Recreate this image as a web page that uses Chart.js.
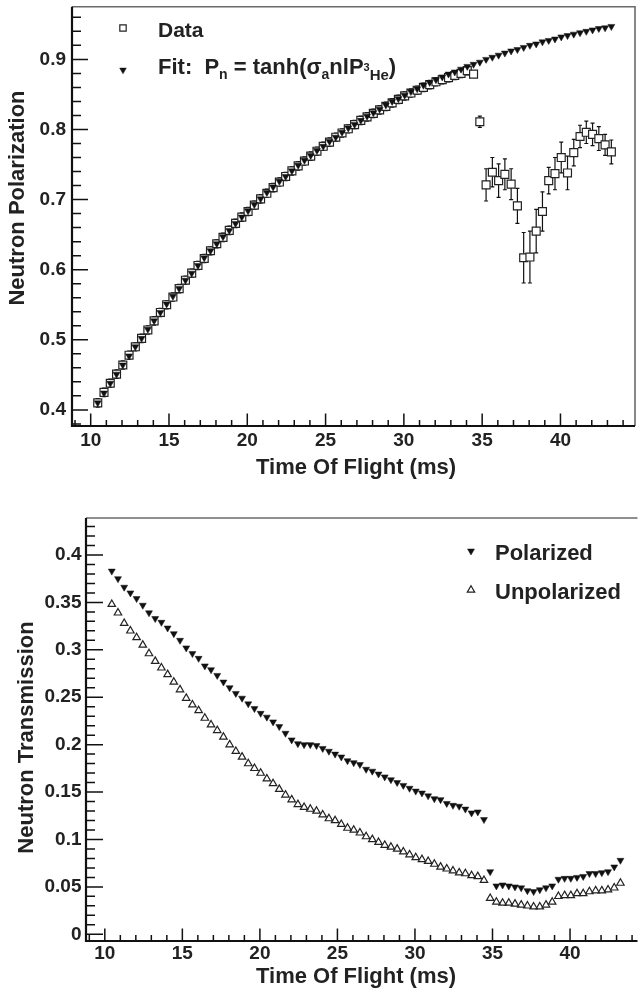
<!DOCTYPE html>
<html>
<head>
<meta charset="utf-8">
<title>Neutron polarization and transmission vs time of flight</title>
<script src="https://cdn.jsdelivr.net/npm/chart.js@4.4.1/dist/chart.umd.min.js"></script>
<style>
  html, body { margin: 0; padding: 0; background: #fff; }
  body { width: 643px; height: 1000px; overflow: hidden; position: relative; }
  canvas { position: absolute; left: 0; }
  #polChart { top: 0; }
  #transChart { top: 490px; }
</style>
</head>
<body>
<canvas id="polChart" width="643" height="490"></canvas>
<canvas id="transChart" width="643" height="510"></canvas>
<script>
const tofMs = [
  10.45, 10.85, 11.25, 11.65, 12.05, 12.45, 12.85, 13.25, 13.65, 14.05,
  14.45, 14.85, 15.25, 15.65, 16.05, 16.45, 16.85, 17.25, 17.65, 18.05,
  18.45, 18.85, 19.25, 19.65, 20.05, 20.45, 20.85, 21.25, 21.65, 22.05,
  22.45, 22.85, 23.25, 23.65, 24.05, 24.45, 24.85, 25.25, 25.65, 26.05,
  26.45, 26.85, 27.25, 27.65, 28.05, 28.45, 28.85, 29.25, 29.65, 30.05,
  30.45, 30.85, 31.25, 31.65, 32.05, 32.45, 32.85, 33.25, 33.65, 34.05,
  34.45, 34.85, 35.25, 35.65, 36.05, 36.45, 36.85, 37.25, 37.65, 38.05,
  38.45, 38.85, 39.25, 39.65, 40.05, 40.45, 40.85, 41.25, 41.65, 42.05,
  42.45, 42.85, 43.25
];

const fitPolarization = [
  0.410, 0.424, 0.438, 0.451, 0.464, 0.477, 0.490, 0.502, 0.515, 0.527,
  0.539, 0.551, 0.562, 0.573, 0.585, 0.595, 0.606, 0.617, 0.627, 0.637,
  0.647, 0.656, 0.666, 0.675, 0.684, 0.693, 0.701, 0.710, 0.718, 0.726,
  0.733, 0.741, 0.749, 0.756, 0.763, 0.770, 0.776, 0.783, 0.789, 0.796,
  0.802, 0.807, 0.813, 0.819, 0.824, 0.829, 0.835, 0.840, 0.844, 0.849,
  0.854, 0.858, 0.863, 0.867, 0.871, 0.875, 0.879, 0.882, 0.886, 0.890,
  0.893, 0.896, 0.900, 0.903, 0.906, 0.909, 0.912, 0.914, 0.917, 0.920,
  0.922, 0.925, 0.927, 0.929, 0.932, 0.934, 0.936, 0.938, 0.940, 0.942,
  0.944, 0.945, 0.947
];

const dataPolarization = [
  0.410, 0.425, 0.438, 0.451, 0.464, 0.478, 0.490, 0.502, 0.514, 0.527,
  0.539, 0.550, 0.561, 0.573, 0.585, 0.595, 0.606, 0.616, 0.627, 0.637,
  0.646, 0.656, 0.666, 0.675, 0.683, 0.692, 0.701, 0.709, 0.717, 0.725,
  0.733, 0.741, 0.748, 0.755, 0.762, 0.769, 0.776, 0.782, 0.789, 0.795,
  0.801, 0.807, 0.813, 0.818, 0.823, 0.828, 0.833, 0.838, 0.843, 0.848,
  0.852, 0.856, 0.860, 0.864, 0.868, 0.871, 0.874, 0.877, 0.880, 0.884,
  0.879, 0.811, 0.721, 0.739, 0.727, 0.736, 0.722, 0.691, 0.617, 0.618,
  0.655, 0.683, 0.727, 0.737, 0.760, 0.738, 0.767, 0.790, 0.796, 0.793,
  0.787, 0.778, 0.768
];

const dataPolarizationErr = [
  0.006, 0.006, 0.006, 0.006, 0.006, 0.006, 0.006, 0.006, 0.006, 0.006,
  0.006, 0.006, 0.006, 0.006, 0.006, 0.006, 0.006, 0.006, 0.006, 0.006,
  0.006, 0.006, 0.006, 0.006, 0.006, 0.006, 0.006, 0.006, 0.006, 0.006,
  0.006, 0.006, 0.006, 0.006, 0.006, 0.006, 0.006, 0.006, 0.006, 0.006,
  0.006, 0.006, 0.006, 0.006, 0.006, 0.006, 0.006, 0.006, 0.006, 0.006,
  0.006, 0.006, 0.006, 0.006, 0.006, 0.006, 0.006, 0.006, 0.006, 0.006,
  0.004, 0.008, 0.023, 0.021, 0.024, 0.022, 0.022, 0.025, 0.036, 0.037,
  0.031, 0.028, 0.019, 0.023, 0.022, 0.024, 0.019, 0.016, 0.016, 0.016,
  0.017, 0.015, 0.017
];

const polarizedTrans = [
  0.383, 0.375, 0.366, 0.360, 0.354, 0.347, 0.339, 0.333, 0.329, 0.323,
  0.317, 0.310, 0.302, 0.296, 0.291, 0.283, 0.279, 0.273, 0.266, 0.260,
  0.254, 0.249, 0.243, 0.238, 0.233, 0.229, 0.224, 0.219, 0.212, 0.205,
  0.201, 0.200, 0.200, 0.199, 0.196, 0.193, 0.190, 0.187, 0.183, 0.181,
  0.179, 0.174, 0.172, 0.169, 0.166, 0.163, 0.160, 0.157, 0.154, 0.151,
  0.149, 0.146, 0.143, 0.142, 0.138, 0.136, 0.135, 0.132, 0.128, 0.129,
  0.121, 0.066, 0.051, 0.052, 0.051, 0.050, 0.049, 0.046, 0.045, 0.047,
  0.049, 0.051, 0.058, 0.059, 0.059, 0.060, 0.061, 0.064, 0.064, 0.065,
  0.066, 0.071, 0.078
];

const unpolarizedTrans = [
  0.348, 0.339, 0.328, 0.320, 0.313, 0.305, 0.296, 0.288, 0.281, 0.274,
  0.266, 0.258, 0.249, 0.242, 0.236, 0.228, 0.221, 0.215, 0.208, 0.200,
  0.193, 0.187, 0.180, 0.175, 0.170, 0.164, 0.159, 0.153, 0.147, 0.142,
  0.137, 0.134, 0.132, 0.130, 0.126, 0.122, 0.120, 0.116, 0.112, 0.110,
  0.107, 0.103, 0.100, 0.097, 0.094, 0.092, 0.090, 0.087, 0.084, 0.081,
  0.079, 0.077, 0.074, 0.071, 0.069, 0.067, 0.065, 0.064, 0.062, 0.061,
  0.057, 0.038, 0.034, 0.033, 0.033, 0.032, 0.031, 0.030, 0.029, 0.029,
  0.031, 0.034, 0.040, 0.041, 0.041, 0.043, 0.043, 0.045, 0.046, 0.046,
  0.047, 0.049, 0.054
];

const xTickValues = [10, 15, 20, 25, 30, 35, 40];
const polTickValues = [0.4, 0.5, 0.6, 0.7, 0.8, 0.9];
const transTickValues = [0, 0.05, 0.1, 0.15, 0.2, 0.25, 0.3, 0.35, 0.4];

const FONT = "'Liberation Sans', Arial, Helvetica, sans-serif";
const INK = "#222";

function points(ys) {
  return tofMs.map((x, i) => ({ x, y: ys[i] }));
}

function fixedTicks(values) {
  return (scale) => {
    scale.ticks = values.map((value) => ({ value }));
  };
}

function fixedWidth(w) {
  return (scale) => {
    scale.width = w;
    scale.paddingTop = 0;
    scale.paddingBottom = 0;
  };
}

function fixedHeight(h) {
  return (scale) => {
    scale.height = h;
    scale.paddingLeft = 0;
    scale.paddingRight = 0;
  };
}

function tickFont() {
  return { family: FONT, size: 19, weight: "bold" };
}

// minor tick positions as integer multiples of step, so no float drift
function tickSteps(min, max, step) {
  const out = [];
  for (let i = Math.ceil(min / step - 1e-6); i * step <= max + 1e-9; i++) {
    out.push(i);
  }
  return out;
}

function drawRuns(ctx, x, baseline, runs) {
  let cx = x;
  runs.forEach((r) => {
    ctx.font = `bold ${r.size}px ${FONT}`;
    ctx.fillText(r.text, cx, baseline + (r.dy || 0));
    cx += ctx.measureText(r.text).width;
  });
}

const framePlugin = {
  id: "rootFrame",
  afterDraw(chart, args, opts) {
    const { ctx, chartArea: a, scales: { x, y } } = chart;
    ctx.save();

    ctx.strokeStyle = "#6a6a6a";
    ctx.lineWidth = 1.6;
    ctx.beginPath();
    ctx.moveTo(a.left, a.top);
    ctx.lineTo(a.right, a.top);
    if (opts.rightBorder) ctx.lineTo(a.right, a.bottom);
    ctx.stroke();

    ctx.strokeStyle = "#111";
    ctx.lineWidth = 1.5;
    ctx.beginPath();
    tickSteps(x.min, x.max, 1).forEach((i) => {
      const px = x.getPixelForValue(i);
      const len = i % 5 === 0 ? opts.xMajorLen : opts.xMinorLen;
      ctx.moveTo(px, a.bottom);
      ctx.lineTo(px, a.bottom - len);
    });
    tickSteps(y.min, y.max, opts.yStep).forEach((i) => {
      const py = y.getPixelForValue(i * opts.yStep);
      const len = i % 5 === 0 ? opts.yMajorLen : opts.yMinorLen;
      ctx.moveTo(a.left, py);
      ctx.lineTo(a.left + len, py);
    });
    ctx.stroke();

    ctx.lineWidth = 2.2;
    ctx.beginPath();
    ctx.moveTo(a.left, a.top);
    ctx.lineTo(a.left, a.bottom);
    ctx.lineTo(a.right, a.bottom);
    ctx.stroke();

    ctx.fillStyle = INK;
    ctx.font = `bold 22px ${FONT}`;
    ctx.textAlign = "center";
    ctx.textBaseline = "alphabetic";
    ctx.fillText(opts.xTitle.text, opts.xTitle.x, opts.xTitle.y);
    ctx.translate(opts.yTitle.x, opts.yTitle.y);
    ctx.rotate(-Math.PI / 2);
    ctx.fillText(opts.yTitle.text, 0, 0);
    ctx.restore();
  }
};

const errorBarPlugin = {
  id: "errorBars",
  beforeDatasetsDraw(chart, args, opts) {
    if (!opts.errors) return;
    const { ctx, scales: { x, y } } = chart;
    const pts = chart.data.datasets[opts.datasetIndex].data;
    ctx.save();
    ctx.strokeStyle = "#111";
    ctx.lineWidth = 1.2;
    ctx.beginPath();
    pts.forEach((p, i) => {
      const px = x.getPixelForValue(p.x);
      const top = y.getPixelForValue(p.y + opts.errors[i]);
      const bot = y.getPixelForValue(p.y - opts.errors[i]);
      ctx.moveTo(px, top);
      ctx.lineTo(px, bot);
      ctx.moveTo(px - 2, top);
      ctx.lineTo(px + 2, top);
      ctx.moveTo(px - 2, bot);
      ctx.lineTo(px + 2, bot);
    });
    ctx.stroke();
    ctx.restore();
  }
};

const legendPlugin = {
  id: "rootLegend",
  afterDraw(chart, args, opts) {
    const ctx = chart.ctx;
    ctx.save();
    opts.items.forEach((item) => {
      const m = item.marker;
      ctx.fillStyle = m.fill;
      ctx.strokeStyle = m.stroke;
      ctx.lineWidth = m.borderWidth;
      Chart.helpers.drawPoint(ctx, {
        pointStyle: m.style,
        rotation: m.rotation || 0,
        radius: m.radius,
        borderWidth: m.borderWidth
      }, item.mx, item.my);
      ctx.fillStyle = INK;
      ctx.textAlign = "left";
      ctx.textBaseline = "alphabetic";
      drawRuns(ctx, item.tx, item.baseline, item.runs);
    });
    ctx.restore();
  }
};

const baseOptions = {
  responsive: false,
  devicePixelRatio: 1,
  animation: false,
  events: []
};

new Chart(document.getElementById("polChart"), {
  type: "scatter",
  data: {
    datasets: [
      {
        label: "Fit",
        data: points(fitPolarization),
        pointStyle: "triangle",
        pointRotation: 180,
        pointRadius: 4,
        pointBackgroundColor: "#111",
        pointBorderColor: "#111",
        pointBorderWidth: 0.5
      },
      {
        label: "Data",
        data: points(dataPolarization),
        pointStyle: "rect",
        pointRadius: 5.6,
        pointBackgroundColor: "#fff",
        pointBorderColor: "#222",
        pointBorderWidth: 1.2
      }
    ]
  },
  options: {
    ...baseOptions,
    layout: { padding: { top: 3, right: 8, left: 0, bottom: 0 } },
    plugins: {
      legend: { display: false },
      tooltip: { enabled: false },
      rootFrame: {
        rightBorder: true,
        yStep: 0.02,
        xMajorLen: 12.5,
        xMinorLen: 6,
        yMajorLen: 16,
        yMinorLen: 9,
        xTitle: { text: "Time Of Flight (ms)", x: 356, y: 473.5 },
        yTitle: { text: "Neutron Polarization", x: 24, y: 198 }
      },
      errorBars: { datasetIndex: 1, errors: dataPolarizationErr },
      rootLegend: {
        items: [
          {
            marker: { style: "rect", radius: 4.5, fill: "#fff", stroke: "#222", borderWidth: 1.2 },
            mx: 123, my: 28, tx: 158, baseline: 37,
            runs: [{ text: "Data", size: 21 }]
          },
          {
            marker: { style: "triangle", rotation: 180, radius: 3.8, fill: "#111", stroke: "#111", borderWidth: 0.5 },
            mx: 123, my: 70, tx: 158, baseline: 74,
            runs: [
              { text: "Fit:  P", size: 22 },
              { text: "n", size: 14, dy: 5 },
              { text: " = tanh(", size: 22 },
              { text: "σ", size: 22 },
              { text: "a", size: 14, dy: 5 },
              { text: "nlP", size: 22 },
              { text: "3", size: 11, dy: -3 },
              { text: "He", size: 15, dy: 6 },
              { text: ")", size: 22 }
            ]
          }
        ]
      }
    },
    scales: {
      x: {
        type: "linear",
        min: 8.806,
        max: 44.76,
        grid: { display: false, drawTicks: false },
        border: { display: false },
        afterBuildTicks: fixedTicks(xTickValues),
        afterFit: fixedHeight(64),
        ticks: { autoSkip: false, maxRotation: 0, padding: 3, color: INK, font: tickFont(), callback: (v) => String(v) }
      },
      y: {
        type: "linear",
        min: 0.377,
        max: 0.975,
        grid: { display: false, drawTicks: false },
        border: { display: false },
        afterBuildTicks: fixedTicks(polTickValues),
        afterFit: fixedWidth(72),
        ticks: { autoSkip: false, padding: 6, color: INK, font: tickFont(), callback: (v) => v.toFixed(1) }
      }
    }
  },
  plugins: [errorBarPlugin, framePlugin, legendPlugin]
});

new Chart(document.getElementById("transChart"), {
  type: "scatter",
  data: {
    datasets: [
      {
        label: "Polarized",
        data: points(polarizedTrans),
        pointStyle: "triangle",
        pointRotation: 180,
        pointRadius: 4,
        pointBackgroundColor: "#111",
        pointBorderColor: "#111",
        pointBorderWidth: 0.5
      },
      {
        label: "Unpolarized",
        data: points(unpolarizedTrans),
        pointStyle: "triangle",
        pointRadius: 4.3,
        pointBackgroundColor: "rgba(255,255,255,0)",
        pointBorderColor: "#222",
        pointBorderWidth: 1.2
      }
    ]
  },
  options: {
    ...baseOptions,
    layout: { padding: { top: 28, right: 0, left: 0, bottom: 0 } },
    plugins: {
      legend: { display: false },
      tooltip: { enabled: false },
      rootFrame: {
        rightBorder: false,
        yStep: 0.01,
        xMajorLen: 12.5,
        xMinorLen: 6,
        yMajorLen: 17,
        yMinorLen: 9,
        xTitle: { text: "Time Of Flight (ms)", x: 356, y: 493 },
        yTitle: { text: "Neutron Transmission", x: 32.5, y: 247.5 }
      },
      errorBars: {},
      rootLegend: {
        items: [
          {
            marker: { style: "triangle", rotation: 180, radius: 4, fill: "#111", stroke: "#111", borderWidth: 0.5 },
            mx: 471, my: 61, tx: 495, baseline: 69.5,
            runs: [{ text: "Polarized", size: 22 }]
          },
          {
            marker: { style: "triangle", radius: 4.3, fill: "rgba(255,255,255,0)", stroke: "#222", borderWidth: 1.2 },
            mx: 471, my: 100, tx: 495, baseline: 109,
            runs: [{ text: "Unpolarized", size: 22 }]
          }
        ]
      }
    },
    scales: {
      x: {
        type: "linear",
        min: 8.787,
        max: 44.35,
        grid: { display: false, drawTicks: false },
        border: { display: false },
        afterBuildTicks: fixedTicks(xTickValues),
        afterFit: fixedHeight(59),
        ticks: { autoSkip: false, maxRotation: 0, padding: 1.5, color: INK, font: tickFont(), callback: (v) => String(v) }
      },
      y: {
        type: "linear",
        min: -0.00707,
        max: 0.439,
        grid: { display: false, drawTicks: false },
        border: { display: false },
        afterBuildTicks: fixedTicks(transTickValues),
        afterFit: fixedWidth(86),
        ticks: { autoSkip: false, padding: 4.5, color: INK, font: tickFont(), callback: (v) => String(Number(v.toFixed(2))) }
      }
    }
  },
  plugins: [errorBarPlugin, framePlugin, legendPlugin]
});
</script>
</body>
</html>
